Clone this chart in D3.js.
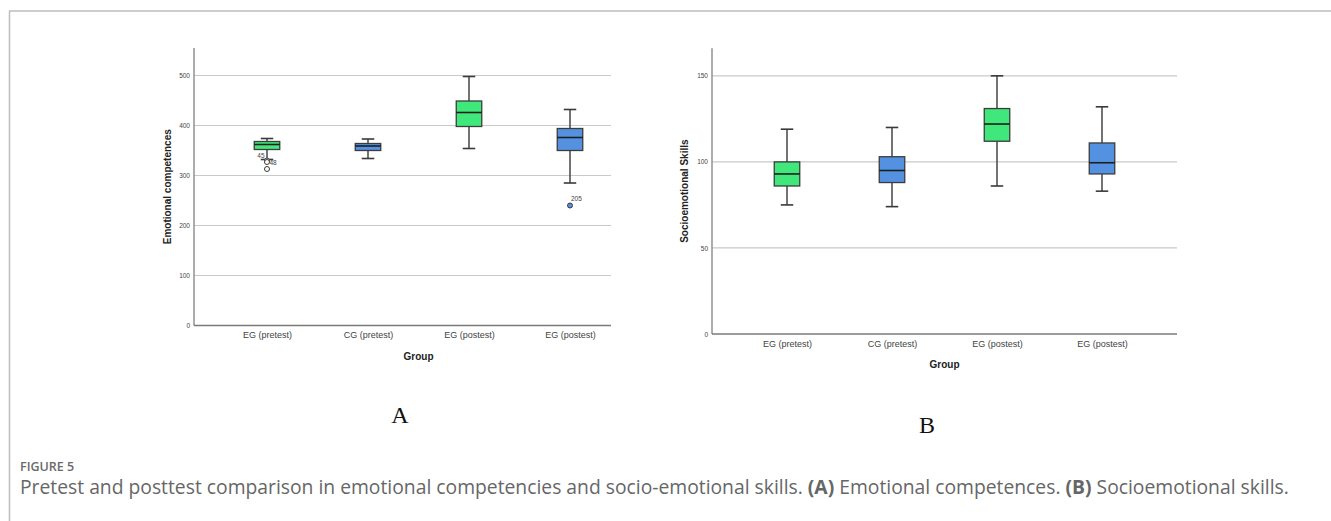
<!DOCTYPE html>
<html>
<head>
<meta charset="utf-8">
<script src="https://cdn.jsdelivr.net/npm/d3@7"></script>
<style>
  html, body { margin: 0; padding: 0; background: #ffffff; }
  svg { display: block; }
</style>
</head>
<body>
<svg id="fig" width="1331" height="521"></svg>
<script>
// Group labels shared by both panels (the last two are both printed as "EG (postest)")
const categories = ["EG (pretest)", "CG (pretest)", "EG (postest)", "EG (postest)"];

// Panel A: Emotional competences — five-number summaries per group
const emoMin    = [332, 334, 354, 285];
const emoQ1     = [352, 350, 398, 350];
const emoMedian = [362, 359, 426, 376];
const emoQ3     = [368, 364, 449, 394];
const emoMax    = [374, 373, 498, 432];
const emoTicks  = [0, 100, 200, 300, 400, 500];
// outliers: group index, value, case id
const emoOutliers = [
  { group: 0, value: 330, id: "45" },
  { group: 0, value: 327, id: "48" },
  { group: 0, value: 313, id: "" },
  { group: 3, value: 240, id: "205" }
];

// Panel B: Socioemotional skills — five-number summaries per group
const ssMin    = [75, 74, 86, 83];
const ssQ1     = [86, 88, 112, 93];
const ssMedian = [93, 95, 122, 99.5];
const ssQ3     = [100, 103, 131, 111];
const ssMax    = [119, 120, 150, 132];
const ssTicks  = [0, 50, 100, 150];
const ssOutliers = [];

// box fills by group (experimental green, others blue)
const fills = ["#40e87b", "#5492e1", "#40e87b", "#5492e1"];

const svg = d3.select("#fig");

// outer frame of the figure block
svg.append("line").attr("x1", 9).attr("x2", 1331).attr("y1", 11).attr("y2", 11)
  .attr("stroke", "#bdbdbd").attr("stroke-width", 1.5);
svg.append("line").attr("x1", 9.5).attr("x2", 9.5).attr("y1", 11).attr("y2", 521)
  .attr("stroke", "#bdbdbd").attr("stroke-width", 1.5);

function drawPanel(cfg) {
  const g = svg.append("g");
  const y = d3.scaleLinear().domain(cfg.yDomain).range([cfg.y0, cfg.y1]);
  const x = d3.scalePoint().domain(d3.range(categories.length)).range(cfg.xRange);
  const boxW = 25.5, capW = 12.5;

  // horizontal gridlines
  g.selectAll("line.grid").data(cfg.ticks.filter(t => t > 0)).join("line")
    .attr("class", "grid")
    .attr("x1", cfg.axisLeft).attr("x2", cfg.axisRight)
    .attr("y1", d => y(d)).attr("y2", d => y(d))
    .attr("stroke", "#c9c9c9").attr("stroke-width", 1.2);

  // y axis (labels only, no tick marks)
  const yAxis = d3.axisLeft(y).tickValues(cfg.ticks).tickSize(0).tickPadding(4);
  const ya = g.append("g").attr("transform", `translate(${cfg.axisLeft},0)`).call(yAxis);
  ya.select(".domain").remove();
  ya.selectAll("text").attr("font-family", "Liberation Sans, Arial, sans-serif")
    .attr("font-size", 6.5).attr("fill", "#444");
  g.append("line").attr("x1", cfg.axisLeft).attr("x2", cfg.axisLeft)
    .attr("y1", cfg.y1).attr("y2", cfg.y0)
    .attr("stroke", "#8a8a8a").attr("stroke-width", 1.4);

  // x axis
  const xAxis = d3.axisBottom(x).tickSize(0).tickPadding(6.5).tickFormat(i => categories[i]);
  const xa = g.append("g").attr("transform", `translate(0,${cfg.y0})`).call(xAxis);
  xa.select(".domain").remove();
  xa.selectAll("text").attr("font-family", "Liberation Sans, Arial, sans-serif")
    .attr("font-size", 9).attr("fill", "#444");
  g.append("line").attr("x1", cfg.axisLeft).attr("x2", cfg.axisRight)
    .attr("y1", cfg.y0).attr("y2", cfg.y0)
    .attr("stroke", "#7a7a7a").attr("stroke-width", 1.4);

  // axis titles
  g.append("text")
    .attr("transform", `translate(${cfg.yTitleX},${(cfg.y0 + cfg.y1) / 2}) rotate(-90)`)
    .attr("text-anchor", "middle").attr("dominant-baseline", "central")
    .attr("font-family", "Liberation Sans, Arial, sans-serif").attr("font-weight", "bold")
    .attr("font-size", 10).attr("fill", "#222").text(cfg.yTitle);
  g.append("text")
    .attr("x", (cfg.xRange[0] + cfg.xRange[1]) / 2).attr("y", cfg.y0 + 30.5)
    .attr("text-anchor", "middle").attr("dominant-baseline", "central")
    .attr("font-family", "Liberation Sans, Arial, sans-serif").attr("font-weight", "bold")
    .attr("font-size", 10).attr("fill", "#222").text("Group");

  const idx = d3.range(categories.length);
  const boxes = g.selectAll("g.box").data(idx).join("g").attr("class", "box");

  // whiskers
  boxes.append("line")
    .attr("x1", i => x(i)).attr("x2", i => x(i))
    .attr("y1", i => y(cfg.max[i])).attr("y2", i => y(cfg.q3[i]))
    .attr("stroke", "#505050").attr("stroke-width", 1.6);
  boxes.append("line")
    .attr("x1", i => x(i)).attr("x2", i => x(i))
    .attr("y1", i => y(cfg.q1[i])).attr("y2", i => y(cfg.min[i]))
    .attr("stroke", "#505050").attr("stroke-width", 1.6);
  boxes.append("line")
    .attr("x1", i => x(i) - capW / 2).attr("x2", i => x(i) + capW / 2)
    .attr("y1", i => y(cfg.max[i])).attr("y2", i => y(cfg.max[i]))
    .attr("stroke", "#3a3a3a").attr("stroke-width", 1.6);
  boxes.append("line")
    .attr("x1", i => x(i) - capW / 2).attr("x2", i => x(i) + capW / 2)
    .attr("y1", i => y(cfg.min[i])).attr("y2", i => y(cfg.min[i]))
    .attr("stroke", "#3a3a3a").attr("stroke-width", 1.6);

  // boxes
  boxes.append("rect")
    .attr("x", i => x(i) - boxW / 2).attr("width", boxW)
    .attr("y", i => y(cfg.q3[i])).attr("height", i => y(cfg.q1[i]) - y(cfg.q3[i]))
    .attr("fill", i => fills[i]).attr("stroke", "#3c3c3c").attr("stroke-width", 1.3);
  // medians
  boxes.append("line")
    .attr("x1", i => x(i) - boxW / 2).attr("x2", i => x(i) + boxW / 2)
    .attr("y1", i => y(cfg.median[i])).attr("y2", i => y(cfg.median[i]))
    .attr("stroke", "#1e1e1e").attr("stroke-width", 1.6);

  // outliers: open for the green group, filled for the blue group
  const labelPos = { "45": { dx: -2.5, dy: -2.2, anchor: "end" },
                     "48": { dx: 2.5, dy: 3.2, anchor: "start" },
                     "205": { dx: 1, dy: -5, anchor: "start" } };
  cfg.outliers.forEach(o => {
    const cx = x(o.group), cy = y(o.value);
    g.append("circle").attr("cx", cx).attr("cy", cy).attr("r", 2.5)
      .attr("fill", o.group === 3 ? fills[o.group] : "#ffffff")
      .attr("stroke", "#3a3a3a").attr("stroke-width", 1);
    if (o.id) {
      const p = labelPos[o.id];
      g.append("text").attr("x", cx + p.dx).attr("y", cy + p.dy)
        .attr("text-anchor", p.anchor)
        .attr("font-family", "Liberation Sans, Arial, sans-serif")
        .attr("font-size", 6.5).attr("fill", "#444").text(o.id);
    }
  });

  // panel letter
  svg.append("text").attr("x", cfg.letterX).attr("y", cfg.letterY)
    .attr("text-anchor", "middle")
    .attr("font-family", "Liberation Serif, Times New Roman, serif")
    .attr("font-size", 24).attr("fill", "#111").text(cfg.letter);
}

drawPanel({
  yDomain: [0, 555], y0: 325.5, y1: 48,
  xRange: [267, 570], axisLeft: 194, axisRight: 611,
  ticks: emoTicks, yTitle: "Emotional competences", yTitleX: 167,
  min: emoMin, q1: emoQ1, median: emoMedian, q3: emoQ3, max: emoMax,
  outliers: emoOutliers, letter: "A", letterX: 400, letterY: 423
});

drawPanel({
  yDomain: [0, 166], y0: 334, y1: 48.3,
  xRange: [787, 1102], axisLeft: 712, axisRight: 1177,
  ticks: ssTicks, yTitle: "Socioemotional Skills", yTitleX: 684,
  min: ssMin, q1: ssQ1, median: ssMedian, q3: ssQ3, max: ssMax,
  outliers: ssOutliers, letter: "B", letterX: 927, letterY: 433
});

// caption
svg.append("text").attr("x", 20).attr("y", 471)
  .attr("font-family", "Open Sans, Lato, sans-serif").attr("font-weight", 600)
  .attr("font-size", 12.5).attr("fill", "#6a6a6a").text("FIGURE 5");

const cap = svg.append("text").attr("x", 20).attr("y", 494)
  .attr("font-family", "Open Sans, Lato, sans-serif")
  .attr("font-size", 15).attr("fill", "#666");
cap.append("tspan").text("Pretest and posttest comparison in emotional competencies and socio-emotional skills. ");
cap.append("tspan").attr("font-weight", "bold").text("(A)");
cap.append("tspan").text(" Emotional competences. ");
cap.append("tspan").attr("font-weight", "bold").text("(B)");
cap.append("tspan").text(" Socioemotional skills.");
// scale the caption font so the line spans the same width as the column
const capLen = cap.node().getComputedTextLength();
cap.attr("font-size", 15 * 1270 / capLen);
</script>
</body>
</html>
